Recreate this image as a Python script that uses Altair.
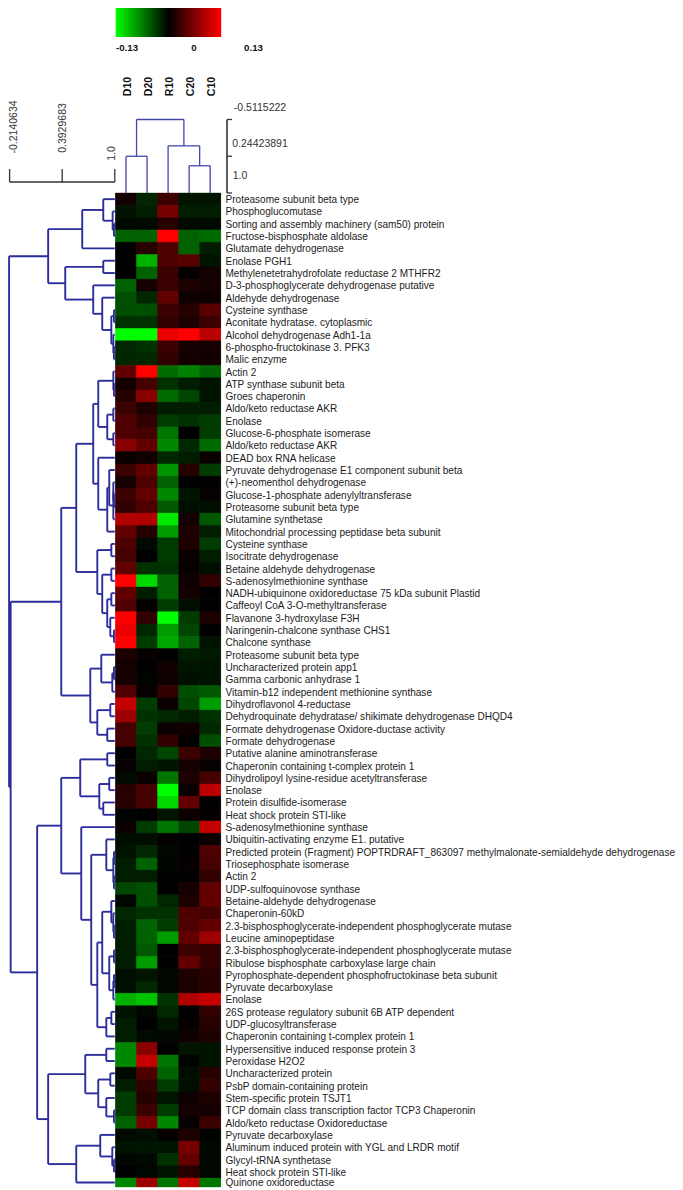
import altair as alt
import pandas as pd

samples = ["D10", "D20", "R10", "C20", "C10"]
proteins = [
 "Proteasome subunit beta type","Phosphoglucomutase","Sorting and assembly machinery (sam50) protein",
 "Fructose-bisphosphate aldolase","Glutamate dehydrogenase","Enolase PGH1",
 "Methylenetetrahydrofolate reductase 2 MTHFR2","D-3-phosphoglycerate dehydrogenase putative","Aldehyde dehydrogenase",
 "Cysteine synthase","Aconitate hydratase. cytoplasmic","Alcohol dehydrogenase Adh1-1a",
 "6-phospho-fructokinase 3. PFK3","Malic enzyme","Actin 2","ATP synthase subunit beta","Groes chaperonin",
 "Aldo/keto reductase AKR","Enolase","Glucose-6-phosphate isomerase","Aldo/keto reductase AKR","DEAD box RNA helicase",
 "Pyruvate dehydrogenase E1 component subunit beta","(+)-neomenthol dehydrogenase","Glucose-1-phosphate adenylyltransferase",
 "Proteasome subunit beta type","Glutamine synthetase","Mitochondrial processing peptidase beta subunit","Cysteine synthase",
 "Isocitrate dehydrogenase","Betaine aldehyde dehydrogenase","S-adenosylmethionine synthase",
 "NADH-ubiquinone oxidoreductase 75 kDa subunit Plastid","Caffeoyl CoA 3-O-methyltransferase","Flavanone 3-hydroxylase F3H",
 "Naringenin-chalcone synthase CHS1","Chalcone synthase","Proteasome subunit beta type","Uncharacterized protein app1",
 "Gamma carbonic anhydrase 1","Vitamin-b12 independent methionine synthase","Dihydroflavonol 4-reductase",
 "Dehydroquinate dehydratase/ shikimate dehydrogenase DHQD4","Formate dehydrogenase Oxidore-ductase activity",
 "Formate dehydrogenase","Putative alanine aminotransferase","Chaperonin containing t-complex protein 1",
 "Dihydrolipoyl lysine-residue acetyltransferase","Enolase","Protein disulfide-isomerase","Heat shock protein STI-like",
 "S-adenosylmethionine synthase","Ubiquitin-activating enzyme E1. putative",
 "Predicted protein (Fragment) POPTRDRAFT_863097 methylmalonate-semialdehyde dehydrogenase","Triosephosphate isomerase",
 "Actin 2","UDP-sulfoquinovose synthase","Betaine-aldehyde dehydrogenase","Chaperonin-60kD",
 "2.3-bisphosphoglycerate-independent phosphoglycerate mutase","Leucine aminopeptidase",
 "2.3-bisphosphoglycerate-independent phosphoglycerate mutase","Ribulose bisphosphate carboxylase large chain",
 "Pyrophosphate-dependent phosphofructokinase beta subunit","Pyruvate decarboxylase","Enolase",
 "26S protease regulatory subunit 6B ATP dependent","UDP-glucosyltransferase","Chaperonin containing t-complex protein 1",
 "Hypersensitive induced response protein 3","Peroxidase H2O2","Uncharacterized protein","PsbP domain-containing protein",
 "Stem-specific protein TSJT1","TCP domain class transcription factor TCP3 Chaperonin","Aldo/keto reductase Oxidoreductase",
 "Pyruvate decarboxylase","Aluminum induced protein with YGL and LRDR motif","Glycyl-tRNA synthetase",
 "Heat shock protein STI-like","Quinone oxidoreductase",
]
# expression, in hundredths, one row per protein: D10, D20, R10, C20, C10
expr = [
 [1,-2,3,-1,-1],[-1,-1.5,6,-1.5,-1.5],[-.5,-.5,2,-.5,-.5],[-5,-5,13,-5,-5.5],[0,2,4,-5,-1.5],
 [0,-9,4,4.5,-1],[0,-5,3,.3,1],[-5,1,3,1.5,1],[-4,-2,5,.7,.7],[-4,-4,3,2,4.5],
 [-2.5,-2.5,2.5,1.5,3],[-13,-13,12,13,9.5],[-2,-2.5,3,1,1],[-2,-2,2.5,1,1],[5,13,-5.5,-6.5,-5],
 [1,3.5,-2.5,-1.5,-1],[2,7,-5.5,-3.5,-1],[3,1.5,-1.5,-1.5,-1.5],[4,2.5,-3,-2.5,-3],[4,3.5,-6,0,-3],
 [7,5,-7,-2,-5.5],[.5,.8,-2,-1.5,.5],[3,5,-7.5,2,-3],[1,4,-5,0,0],[3,5,-7,-1,.3],
 [2.5,4,-4.5,-.7,-.7],[9,9,-12,1,-4.5],[5,2,-8,1.5,-1.5],[4,-.5,-3,1.5,-3],[3.5,0,-3,.5,-1.5],
 [5,-2.5,-2.5,.3,-.7],[13,-11,-5,.7,2.5],[5,-1.5,-5,1,0],[4,.2,-3,-.7,0],[13,2.5,-13,-3,1.5],
 [12,-2,-8,-3.5,0],[13,-3,-8.5,-5,-1],[1.5,.3,0,-1.5,-1.2],[1,0,.8,-1,-1],[1,-.2,.7,-.8,-1],
 [4,.3,2.5,-4,-4.5],[10,-3,.5,-3.5,-8],[8,-2.5,-2,-1.5,-2.5],[3.5,-3,.5,.7,-2],[3.5,-2.5,2.5,0,-4],
 [0,-2,-3.5,3,1.5],[.3,-1.5,-1,1,.3],[-.5,.5,-6,1.5,3.5],[2,3.5,-13,.5,9.5],[2,3.5,-11,5,0],
 [-.2,0,-1,.5,.2],[.5,-3,-6,-3.5,10],[-.7,-.7,.2,0,.5],[-1,-2,-.3,0,4],[-1.5,-5,-.3,.3,3.5],
 [-1.5,-1.5,0,0,2.5],[-3.5,-4,0,1,5],[-.3,-4,-2,1.5,5],[-2,-2.5,-2.5,4,3.5],[-1.5,-5,-3,4,5],
 [-1.5,-5,-8,5,8],[-1.5,-4.5,0,3,2.5],[-1.5,-8,0,5,2.5],[-.7,-1,-.3,1.5,2],[-.8,-2,-.3,1.5,2],
 [-9,-10,-2.5,9,10],[-1,-.3,-2,0,2.5],[-1.5,0,-1,.3,2],[-1.5,-.5,-.3,.7,1.5],[-7,7,0,-1,-1],
 [-7,10,-6,-.2,-1],[-.5,4,-5,-.7,2],[-1.5,2.5,-3,-.7,2.5],[-3,2,-1,.7,1.5],[-3,3,-3,1,1],
 [-5,6,-7,.3,3],[-.5,-.7,.3,1.5,-.2],[-1,-1,-1,6,-.4],[-.3,-.5,-2.5,5,-.3],[0,-.3,-1,2,-.3],
 [-7,8,-6,10,-6],
]
# Row dendrogram: (merge height, child, child); an int is a 1-based row.
row_tree = (-0.22,
  (0.231,
    (0.624, (0.867, 1, (0.975, 2, (0.99, 3, 4))), 5),
    (0.428, (0.867, 6, 7),
      (0.751, 8, (0.855, 9, (0.96, (0.99, 10, 11), (0.983, 12, (0.99, 13, 14))))))),
  (-0.202,
    (0.382,
      (0.555,
        (0.751,
          (0.809, (0.983, 15, (0.99, 16, 17)), (0.913, (0.983, 18, 19), (0.983, 20, 21))),
          (0.809, 22, (0.913, (0.936, 23, (0.983, (0.983, 24, (0.99, 25, 26)), 27)), 28))),
        (0.798, (0.96, 29, 30),
          (0.855, (0.96, 31, 32),
            (0.913, (0.96, 33, 34), (0.948, 35, (0.99, 36, 37)))))),
      (0.717,
        (0.844, 38, (0.971, (0.99, 39, 40), 41)),
        (0.798, (0.948, 42, 43), (0.913, 44, 45)))),
    (0.104,
      (0.382,
        (0.601, (0.913, 46, 47), (0.821, (0.936, 48, 49), (0.867, 50, 51))),
        (0.613, 52,
          (0.728,
            (0.902, 53, (0.983, (0.99, 54, 55), (0.99, 56, 57))),
            (0.798,
              (0.855,
                (0.96, 58, (0.983, 59, (0.99, 60, 61))),
                (0.936, (0.99, 62, 63), (0.983, (0.99, 64, 65), 66))),
              (0.902, (0.96, 67, 68), 69))))),
      (0.231,
        (0.659, (0.902, 70, 71),
          (0.809, (0.948, 72, 73), (0.902, 74, (0.99, 75, 76)))),
        (0.555, (0.832, 77, (0.971, 78, (0.99, 79, 80))), 81))))
)
# Column dendrogram over sample positions
col_tree = (-0.5115222, (0.2442389, 1, 2), (0.03, 3, (0.44, 4, 5)))

ROW_END = 80.73   # the last row is cut short in the figure
ROW_SCALE = alt.Scale(domain=[0, ROW_END], range=[185, 1179], nice=False, zero=False)
COL_SCALE = alt.Scale(domain=[0, 5], range=[107.5, 212.7], nice=False, zero=False)
LEFT_SCALE = alt.Scale(domain=[-0.2140634, 1.0], range=[1.6, 106.8], nice=False, zero=False)
TOP_SCALE = alt.Scale(domain=[-0.5115222, 1.0], range=[111.5, 185], nice=False, zero=False)
BLUE = "#2b2d9c"
INK = "#1c1c1c"
HEAT_STOPS = dict(domain=[-0.13, 0, 0.13], range=["#00ff00", "#000000", "#ff0000"], interpolate="rgb", clamp=True)

def row_pos(i):
    return (80 + ROW_END) / 2 if i == 81 else i - 0.5

def walk(node, pos, out):
    """Returns (height, position) of a node; appends its three segments."""
    if isinstance(node, int):
        return 1.0, pos(node)
    h, a, b = node
    ha, pa = walk(a, pos, out)
    hb, pb = walk(b, pos, out)
    out.append(dict(h=h, h2=h, p=pa, p2=pb))
    out.append(dict(h=h, h2=ha, p=pa, p2=pa))
    out.append(dict(h=h, h2=hb, p=pb, p2=pb))
    return h, (pa + pb) / 2

left_seg, top_seg = [], []
walk(row_tree, row_pos, left_seg)
walk(col_tree, lambda i: i - 0.5, top_seg)

left_tree = alt.Chart(pd.DataFrame(left_seg)).mark_rule(color=BLUE, strokeWidth=1.9).encode(
    x=alt.X("h:Q", scale=LEFT_SCALE, axis=None), x2="h2:Q",
    y=alt.Y("p:Q", scale=ROW_SCALE, axis=None), y2="p2:Q")
top_tree = alt.Chart(pd.DataFrame(top_seg)).mark_rule(color="#4348a6", strokeWidth=1.3).encode(
    x=alt.X("p:Q", scale=COL_SCALE, axis=None), x2="p2:Q",
    y=alt.Y("h:Q", scale=TOP_SCALE, axis=None), y2="h2:Q")

cells = []
for r, vals in enumerate(expr):
    for c, v in enumerate(vals):
        cells.append(dict(c0=c, c1=c + 1, r0=r, r1=min(r + 1, ROW_END), value=v / 100))
cell_df = pd.DataFrame(cells)
# lower layer carries the colour bar, upper layer closes the hairline seams between cells
heat_base = alt.Chart(cell_df).mark_rect().encode(
    x=alt.X("c0:Q", scale=COL_SCALE, axis=None), x2="c1:Q",
    y=alt.Y("r0:Q", scale=ROW_SCALE, axis=None), y2="r1:Q",
    color=alt.Color("value:Q", scale=alt.Scale(**HEAT_STOPS),
        legend=alt.Legend(orient="none", legendX=107.7, legendY=0, direction="horizontal", title=None, labelExpr="''",
                          gradientLength=105.5, gradientThickness=29, gradientStrokeWidth=0, padding=0)))
heat = alt.Chart(cell_df).mark_rect(strokeWidth=0.4).encode(
    x=alt.X("c0:Q", scale=COL_SCALE, axis=None), x2="c1:Q",
    y=alt.Y("r0:Q", scale=ROW_SCALE, axis=None), y2="r1:Q",
    color=alt.Color("value:Q", scale=alt.Scale(**HEAT_STOPS), legend=None),
    stroke=alt.Stroke("value:Q", scale=alt.Scale(**HEAT_STOPS), legend=None))

label_df = pd.DataFrame({"name": proteins, "row": [row_pos(i + 1) + 0.08 for i in range(len(proteins))]})
labels = alt.Chart(label_df).mark_text(align="left", baseline="middle", font="Liberation Sans", fontSize=10.05, color=INK).encode(
    x=alt.value(217.5), y=alt.Y("row:Q", scale=ROW_SCALE, axis=None), text="name:N")

col_df = pd.DataFrame({"s": samples, "c": [i + 0.5 for i in range(5)]})
col_labels = alt.Chart(col_df).mark_text(angle=270, align="center", baseline="middle", dy=1.5, font="Liberation Sans",
        fontWeight="bold", fontSize=10.5, color="#111111").encode(
    x=alt.X("c:Q", scale=COL_SCALE, axis=None), y=alt.value(78.5), text="s:N")

# scale brackets
left_ticks = [-0.2140634, 0.3929683, 1.0]
top_ticks = [-0.5115222, 0.2442389, 1.0]
BR = "#333333"
lb = alt.Chart(pd.DataFrame({"a": [left_ticks[0]], "b": [left_ticks[-1]]})).mark_rule(color=BR, strokeWidth=1.6).encode(
    x=alt.X("a:Q", scale=LEFT_SCALE, axis=None), x2="b:Q", y=alt.value(174))
lt = alt.Chart(pd.DataFrame({"a": left_ticks})).mark_rule(color=BR, strokeWidth=1.3).encode(
    x=alt.X("a:Q", scale=LEFT_SCALE, axis=None), y=alt.value(161), y2=alt.value(174))
tb = alt.Chart(pd.DataFrame({"a": [top_ticks[0]], "b": [top_ticks[-1]]})).mark_rule(color=BR, strokeWidth=1.6).encode(
    y=alt.Y("a:Q", scale=TOP_SCALE, axis=None), y2="b:Q", x=alt.value(219))
tt = alt.Chart(pd.DataFrame({"a": top_ticks})).mark_rule(color=BR, strokeWidth=1.3).encode(
    y=alt.Y("a:Q", scale=TOP_SCALE, axis=None), x=alt.value(219), x2=alt.value(224))

def note(text, x, y, angle=0, bold=False, size=10.5, color="#333333"):
    return alt.Chart(pd.DataFrame({"t": [text]})).mark_text(
        align="center", baseline="middle", angle=angle, font="Liberation Sans", fontSize=size,
        fontWeight="bold" if bold else "normal", color=color).encode(
        x=alt.value(x), y=alt.value(y), text="t:N")

notes = [
    note("-0.13", 119, 40, bold=True, size=9.7, color="#111111"), note("0", 186, 40, bold=True, size=9.7, color="#111111"),
    note("0.13", 245.5, 40, bold=True, size=9.7, color="#111111"),
    note("-0.2140634", 5.5, 119, angle=270), note("0.3929683", 54.5, 120, angle=270), note("1.0", 104, 145.5, angle=270),
    note("-0.5115222", 252, 99.5), note("0.24423891", 252, 136), note("1.0", 232, 168),
]

chart = alt.layer(left_tree, top_tree, heat_base, heat, labels, col_labels, lb, lt, tb, tt, *notes).resolve_scale(
    x="independent", y="independent", color="independent", stroke="independent"
).properties(width=667, height=1182, padding=0, autosize="none", background="white",
).configure_view(stroke=None)

chart.save("out.html", embed_options={"renderer": "svg", "actions": False})
